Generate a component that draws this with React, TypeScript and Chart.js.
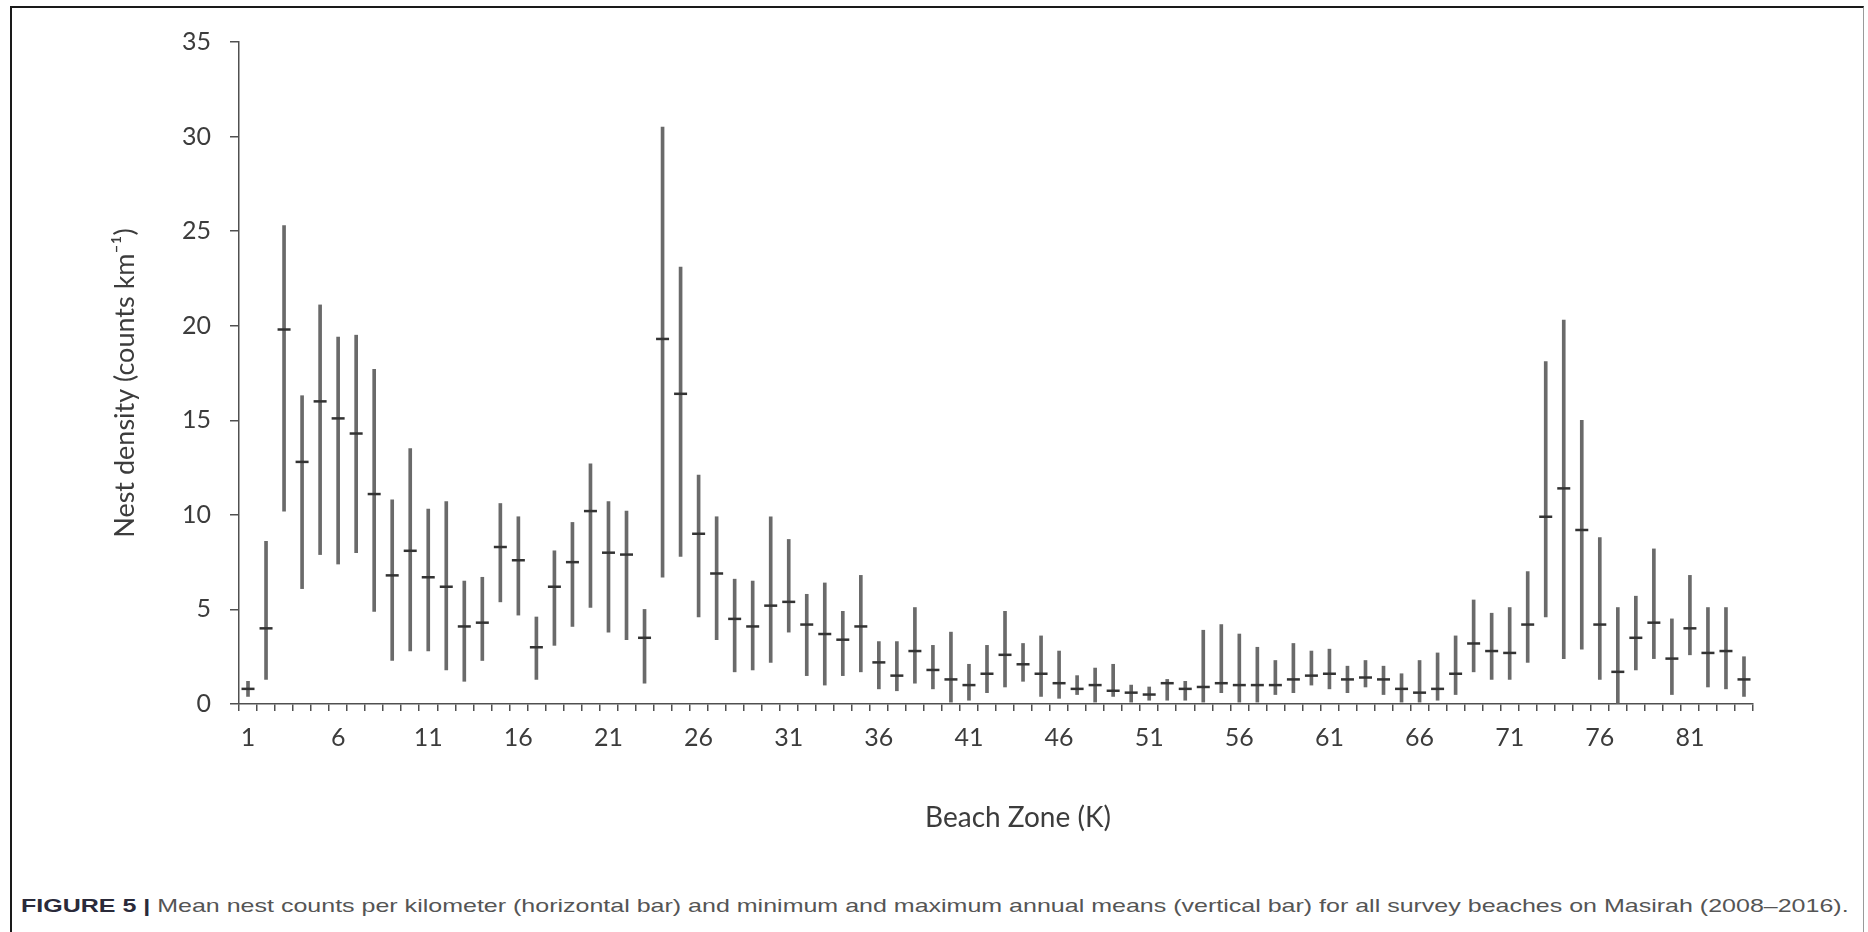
import React, { useEffect, useLayoutEffect, useRef, useState } from "react";
import { Chart, registerables } from "chart.js";

Chart.register(...registerables);

// Beach zones (K)
const zones = [
  "1", "2", "3", "4", "5", "6", "7", "8", "9", "10",
  "11", "12", "13", "14", "15", "16", "17", "18", "19", "20",
  "21", "22", "23", "24", "25", "26", "27", "28", "29", "30",
  "31", "32", "33", "34", "35", "36", "37", "38", "39", "40",
  "41", "42", "43", "44", "45", "46", "47", "48", "49", "50",
  "51", "52", "53", "54", "55", "56", "57", "58", "59", "60",
  "61", "62", "63", "64", "65", "66", "67", "68", "69", "70",
  "71", "72", "73", "74", "75", "76", "77", "78", "79", "80",
  "81", "82", "83", "84",
];

// Zones that carry a tick label
const labeledZones = ["1", "6", "11", "16", "21", "26", "31", "36", "41", "46", "51", "56", "61", "66", "71", "76", "81"];

// Minimum annual mean (bottom of vertical bar)
const minValues = [
  0.4, 1.3, 10.2, 6.1, 7.9, 7.4, 8.0, 4.9, 2.3, 2.8,
  2.8, 1.8, 1.2, 2.3, 5.4, 4.7, 1.3, 3.1, 4.1, 5.1,
  3.8, 3.4, 1.1, 6.7, 7.8, 4.6, 3.4, 1.7, 1.8, 2.2,
  3.8, 1.5, 1.0, 1.5, 1.7, 0.8, 0.7, 1.1, 0.8, 0.1,
  0.2, 0.6, 0.9, 1.2, 0.4, 0.3, 0.5, 0.1, 0.4, 0.1,
  0.2, 0.2, 0.2, 0.1, 0.6, 0.1, 0.1, 0.5, 0.6, 1.0,
  0.8, 0.6, 0.9, 0.5, 0.1, 0.1, 0.2, 0.5, 1.7, 1.3,
  1.3, 2.2, 4.6, 2.4, 2.9, 1.3, 0.0, 1.8, 2.4, 0.5,
  2.6, 0.9, 0.8, 0.4,
];

// Mean nest counts per km (horizontal bar)
const meanValues = [
  0.8, 4.0, 19.8, 12.8, 16.0, 15.1, 14.3, 11.1, 6.8, 8.1,
  6.7, 6.2, 4.1, 4.3, 8.3, 7.6, 3.0, 6.2, 7.5, 10.2,
  8.0, 7.9, 3.5, 19.3, 16.4, 9.0, 6.9, 4.5, 4.1, 5.2,
  5.4, 4.2, 3.7, 3.4, 4.1, 2.2, 1.5, 2.8, 1.8, 1.3,
  1.0, 1.6, 2.6, 2.1, 1.6, 1.1, 0.8, 1.0, 0.7, 0.6,
  0.5, 1.1, 0.8, 0.9, 1.1, 1.0, 1.0, 1.0, 1.3, 1.5,
  1.6, 1.3, 1.4, 1.3, 0.8, 0.6, 0.8, 1.6, 3.2, 2.8,
  2.7, 4.2, 9.9, 11.4, 9.2, 4.2, 1.7, 3.5, 4.3, 2.4,
  4.0, 2.7, 2.8, 1.3,
];

// Maximum annual mean (top of vertical bar)
const maxValues = [
  1.2, 8.6, 25.3, 16.3, 21.1, 19.4, 19.5, 17.7, 10.8, 13.5,
  10.3, 10.7, 6.5, 6.7, 10.6, 9.9, 4.6, 8.1, 9.6, 12.7,
  10.7, 10.2, 5.0, 30.5, 23.1, 12.1, 9.9, 6.6, 6.5, 9.9,
  8.7, 5.8, 6.4, 4.9, 6.8, 3.3, 3.3, 5.1, 3.1, 3.8,
  2.1, 3.1, 4.9, 3.2, 3.6, 2.8, 1.5, 1.9, 2.1, 1.0,
  0.9, 1.3, 1.2, 3.9, 4.2, 3.7, 3.0, 2.3, 3.2, 2.8,
  2.9, 2.0, 2.3, 2.0, 1.6, 2.3, 2.7, 3.6, 5.5, 4.8,
  5.1, 7.0, 18.1, 20.3, 15.0, 8.8, 5.1, 5.7, 8.2, 4.5,
  6.8, 5.1, 5.1, 2.5,
];

const yMin = 0;
const yMax = 35;
const yStep = 5;

const xTitle = "Beach Zone (K)";
const yTitle = "Nest density (counts km\u207B\u00B9)";

const CANVAS_W = 1868;
const CANVAS_H = 860;

const textColor = "#3c3c3c";
const axisColor = "#505050";

// Draws the two axis titles at their places in the figure
const axisTitlePlugin = {
  id: "axisTitles",
  afterDraw(chart: any) {
    const ctx = chart.ctx;
    ctx.save();
    ctx.fillStyle = textColor;
    ctx.textAlign = "center";
    ctx.textBaseline = "middle";
    ctx.font = "28px Lato";
    ctx.fillText(xTitle, 1018, 818);
    ctx.translate(125, 383);
    ctx.rotate(-Math.PI / 2);
    ctx.font = "27px Lato";
    ctx.fillText(yTitle, 0, 0);
    ctx.restore();
  },
};

export default function App() {
  const canvasRef = useRef<HTMLCanvasElement | null>(null);
  const captionRef = useRef<HTMLSpanElement | null>(null);
  const [capScale, setCapScale] = useState(1);

  useLayoutEffect(() => {
    if (captionRef.current) {
      const w = captionRef.current.offsetWidth;
      if (w > 0) setCapScale(1828 / w);
    }
  }, []);

  useEffect(() => {
    if (!canvasRef.current) return;
    const chart = new Chart(canvasRef.current, {
      type: "bar",
      data: {
        labels: zones,
        datasets: [
          {
            type: "bar",
            label: "Range",
            data: zones.map((_, i) => [minValues[i], maxValues[i]]) as any,
            backgroundColor: "#6a6a6a",
            borderWidth: 0,
            barThickness: 3,
            order: 2,
          },
          {
            type: "line",
            label: "Mean",
            data: meanValues,
            showLine: false,
            pointStyle: "line",
            pointRadius: 6.5,
            pointHoverRadius: 6.5,
            pointBorderWidth: 2.5,
            pointBorderColor: "#333333",
            pointBackgroundColor: "#333333",
            order: 1,
          },
        ],
      },
      options: {
        responsive: false,
        animation: false,
        devicePixelRatio: 1,
        layout: { padding: { left: 0, right: 115, top: 42, bottom: 0 } },
        plugins: {
          legend: { display: false },
          tooltip: { enabled: false },
        },
        scales: {
          x: {
            type: "category",
            offset: true,
            grid: {
              offset: true,
              drawOnChartArea: false,
              drawTicks: true,
              tickLength: 7,
              color: axisColor,
              lineWidth: 1.5,
            },
            border: { display: true, color: axisColor, width: 1.5 },
            ticks: {
              autoSkip: false,
              maxRotation: 0,
              minRotation: 0,
              padding: 12,
              color: textColor,
              font: { family: "Lato", size: 25 },
              callback: (_v: any, index: number) =>
                labeledZones.includes(zones[index]) ? zones[index] : "",
            },
            title: { display: false },
            afterFit: (scale: any) => {
              scale.height = CANVAS_H - 704;
            },
          },
          y: {
            type: "linear",
            min: yMin,
            max: yMax,
            grid: {
              drawOnChartArea: false,
              drawTicks: true,
              tickLength: 9,
              color: axisColor,
              lineWidth: 1.5,
            },
            border: { display: true, color: axisColor, width: 1.5 },
            ticks: {
              stepSize: yStep,
              padding: 19,
              color: textColor,
              font: { family: "Lato", size: 25 },
            },
            title: { display: false },
            afterFit: (scale: any) => {
              scale.width = 239;
            },
          },
        },
      },
      plugins: [axisTitlePlugin],
    });
    return () => chart.destroy();
  }, []);

  return (
    <div
      style={{
        position: "absolute",
        left: 0,
        top: 0,
        width: CANVAS_W,
        height: 932,
        overflow: "hidden",
        background: "#ffffff",
      }}
    >
      <div
        style={{
          position: "absolute",
          left: 10,
          top: 6,
          width: 1854,
          height: 960,
          borderTop: "2px solid #1a1a1a",
          borderLeft: "2px solid #1a1a1a",
          borderRight: "1px solid #9a9a9a",
          boxSizing: "border-box",
        }}
      />
      <canvas
        ref={canvasRef}
        width={CANVAS_W}
        height={CANVAS_H}
        style={{ position: "absolute", left: 0, top: 0, width: CANVAS_W, height: CANVAS_H, display: "block" }}
      />
      <div
        style={{
          position: "absolute",
          left: 21,
          top: 895,
          whiteSpace: "nowrap",
          transformOrigin: "0 0",
          transform: `scaleX(${capScale})`,
          fontFamily: "'Liberation Sans', Arial, sans-serif",
          fontSize: 19,
          lineHeight: "22px",
          color: "#555",
        }}
      >
        <span ref={captionRef} style={{ display: "inline-block" }}>
          <b style={{ color: "#2a2a3a" }}>FIGURE 5 | </b>
          Mean nest counts per kilometer (horizontal bar) and minimum and maximum annual means (vertical bar) for all survey beaches on Masirah (2008–2016).
        </span>
      </div>
    </div>
  );
}
